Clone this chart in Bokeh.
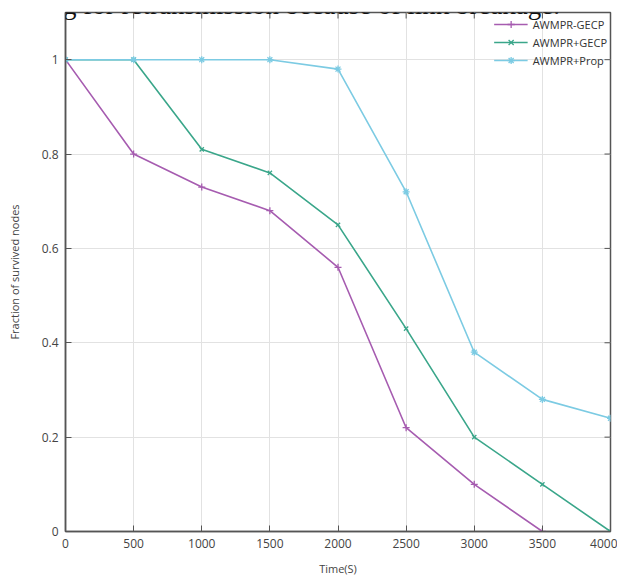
from bokeh.plotting import figure
from bokeh.models import Legend, LegendItem, Label, FixedTicker, Range1d
from bokeh.embed import file_html
from bokeh.resources import INLINE

time_s = [0, 500, 1000, 1500, 2000, 2500, 3000, 3500, 4000]
gecp_minus_t = [0, 500, 1000, 1500, 2000, 2500, 3000, 3500]
gecp_minus = [1.0, 0.80, 0.73, 0.68, 0.56, 0.22, 0.10, 0.0]
gecp_plus = [1.0, 1.0, 0.81, 0.76, 0.65, 0.43, 0.20, 0.10, 0.0]
prop_plus = [1.0, 1.0, 1.0, 1.0, 0.98, 0.72, 0.38, 0.28, 0.24]
x_ticks = [0, 500, 1000, 1500, 2000, 2500, 3000, 3500, 4000]
y_ticks = [0, 0.2, 0.4, 0.6, 0.8, 1.0]
y_tick_labels = {0: "0", 0.2: "0.2", 0.4: "0.4", 0.6: "0.6", 0.8: "0.8", 1.0: "1"}

FONT = "Open Sans"
AXC = "#555555"
c1, c2, c3 = "#a65cb0", "#3aa68a", "#7ccbe3"
X_MAX, Y_MAX = 4000, 1.1

p = figure(width=617, height=579, output_backend="svg", toolbar_location=None,
           x_range=Range1d(0, X_MAX), y_range=Range1d(0, Y_MAX),
           min_border_left=65, min_border_right=7, min_border_top=12, min_border_bottom=48,
           x_axis_label="Time(S)", y_axis_label="Fraction of survived nodes")
p.outline_line_color = AXC
p.outline_line_width = 1.5
p.background_fill_color = "white"

for ax in (p.xaxis[0], p.yaxis[0]):
    ax.major_tick_in = 6
    ax.major_tick_out = 0
    ax.minor_tick_in = 0
    ax.minor_tick_out = 0
    ax.axis_line_color = AXC
    ax.axis_line_width = 1.5
    ax.major_tick_line_color = AXC
    ax.major_label_text_font = FONT
    ax.major_label_text_font_size = "12px"
    ax.major_label_text_color = "#444444"
    ax.axis_label_text_font = FONT
    ax.axis_label_text_font_size = "11px"
    ax.axis_label_text_font_style = "normal"
    ax.axis_label_text_color = "#444444"
    ax.background_fill_color = None
p.xaxis[0].ticker = FixedTicker(ticks=x_ticks)
p.yaxis[0].ticker = FixedTicker(ticks=y_ticks)
p.yaxis[0].major_label_overrides = y_tick_labels
p.xaxis[0].major_label_standoff = 7
p.yaxis[0].major_label_standoff = 7
p.xaxis[0].axis_label_standoff = 10
p.yaxis[0].axis_label_standoff = 17

p.xgrid.ticker = FixedTicker(ticks=x_ticks)
p.ygrid.ticker = FixedTicker(ticks=y_ticks)
p.grid.grid_line_color = "#e2e2e2"
p.grid.grid_line_width = 1

# mirror ticks on top and right edges (half of each dash is clipped by the frame)
p.scatter(x_ticks, [Y_MAX] * len(x_ticks), marker="dash", angle=1.5708, size=12,
          line_color=AXC, line_width=1)
p.scatter([X_MAX] * len(y_ticks), y_ticks, marker="dash", size=12,
          line_color=AXC, line_width=1)

l1 = p.line(gecp_minus_t, gecp_minus, line_color=c1, line_width=1.6)
m1 = p.scatter(gecp_minus_t, gecp_minus, marker="cross", size=7, line_color=c1, line_width=1.3)
l2 = p.line(time_s, gecp_plus, line_color=c2, line_width=1.6)
m2 = p.scatter(time_s, gecp_plus, marker="x", size=6, line_color=c2, line_width=1.3)
l3 = p.line(time_s, prop_plus, line_color=c3, line_width=1.6)
m3 = p.scatter(time_s, prop_plus, marker="asterisk", size=7, line_color=c3, line_width=1.3)

legend = Legend(items=[
    LegendItem(label="AWMPR-GECP", renderers=[l1, m1]),
    LegendItem(label="AWMPR+GECP", renderers=[l2, m2]),
    LegendItem(label="AWMPR+Prop", renderers=[l3, m3]),
], location="top_right", border_line_color=None, background_fill_alpha=0,
   label_text_font=FONT, label_text_font_size="11px", label_text_color="#333333",
   glyph_width=34, spacing=0, padding=2, margin=3, label_height=18, glyph_height=18)
p.add_layout(legend)

# partially visible caption line from the surrounding document (cut off at the top edge)
cap = Label(x=-67, y=527, x_units="screen", y_units="screen",
            text="routing for retransmission because of link breakage.",
            text_font="Liberation Serif", text_font_size="27px", text_color="#111111",
            text_baseline="alphabetic")
p.add_layout(cap)

open("out.html", "w").write(file_html(p, INLINE))
